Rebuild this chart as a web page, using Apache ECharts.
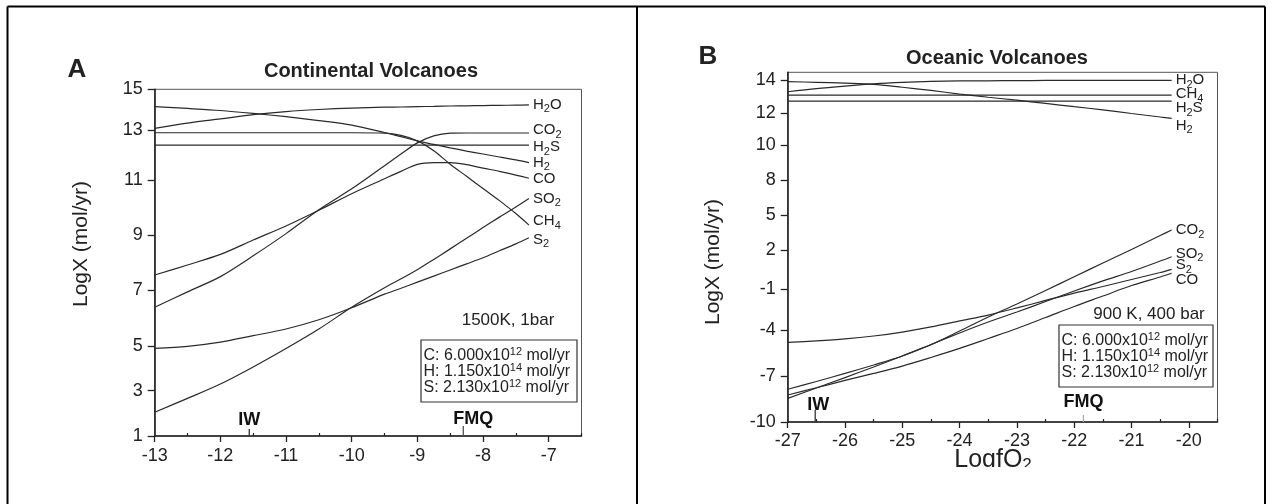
<!DOCTYPE html>
<html>
<head>
<meta charset="utf-8">
<script src="https://cdn.jsdelivr.net/npm/echarts@6/dist/echarts.min.js"></script>
<style>
  html, body { margin: 0; padding: 0; background: #fff; }
  #chart { width: 1273px; height: 504px; }
</style>
</head>
<body>
<div id="chart"></div>
<script>
const FONT = '"Liberation Sans", Arial, Helvetica, sans-serif';
const INK = '#222';

// ---------- Panel A: continental volcanoes (1500 K, 1 bar) ----------
const fo2A = [-13, -12.5, -12, -11.5, -11, -10.5, -10, -9.5, -9.25, -9, -8.75, -8.5, -8.25, -8, -7.75, -7.5, -7.3];
const h2oA = [13.10, 13.36, 13.56, 13.77, 13.92, 14.02, 14.09, 14.13, 14.14, 14.16, 14.17, 14.19, 14.20, 14.21, 14.22, 14.23, 14.24];
const co2A = [6.40, 6.95, 7.50, 8.25, 9.05, 9.92, 10.68, 11.58, 12.05, 12.50, 12.78, 12.89, 12.90, 12.90, 12.90, 12.90, 12.90];
const h2sA = [12.41, 12.41, 12.41, 12.41, 12.41, 12.41, 12.41, 12.41, 12.41, 12.41, 12.41, 12.41, 12.41, 12.41, 12.41, 12.41, 12.41];
const h2A  = [14.16, 14.07, 13.97, 13.83, 13.67, 13.48, 13.26, 12.92, 12.75, 12.58, 12.44, 12.30, 12.17, 12.05, 11.93, 11.81, 11.70];
const coA  = [7.56, 7.92, 8.30, 8.82, 9.33, 9.90, 10.50, 11.05, 11.35, 11.63, 11.70, 11.70, 11.62, 11.48, 11.35, 11.20, 11.07];
const so2A = [2.05, 2.66, 3.30, 4.07, 4.90, 5.62, 6.40, 7.10, 7.42, 7.75, 8.12, 8.50, 8.88, 9.27, 9.65, 10.02, 10.33];
const ch4A = [12.91, 12.91, 12.91, 12.91, 12.91, 12.91, 12.91, 12.89, 12.80, 12.58, 12.18, 11.64, 11.15, 10.69, 10.25, 9.78, 9.36];
const s2A  = [4.91, 5.00, 5.15, 5.38, 5.62, 5.95, 6.38, 6.87, 7.08, 7.30, 7.52, 7.74, 7.96, 8.18, 8.43, 8.68, 8.90];

// ---------- Panel B: oceanic volcanoes (900 K, 400 bar) ----------
const fo2B = [-27, -26.5, -26, -25.5, -25, -24.5, -24, -23.5, -23, -22.5, -22, -21.5, -21, -20.5, -20.3];
const h2oB = [13.31, 13.50, 13.65, 13.78, 13.87, 13.93, 13.96, 13.97, 13.98, 13.99, 13.99, 14.00, 14.00, 14.00, 14.00];
const ch4B = [13.11, 13.11, 13.11, 13.11, 13.11, 13.11, 13.11, 13.11, 13.11, 13.11, 13.11, 13.11, 13.11, 13.11, 13.11];
const h2sB = [12.75, 12.75, 12.75, 12.75, 12.75, 12.75, 12.75, 12.75, 12.75, 12.75, 12.75, 12.75, 12.75, 12.75, 12.75];
const h2B  = [13.92, 13.88, 13.83, 13.76, 13.58, 13.39, 13.17, 12.98, 12.80, 12.61, 12.41, 12.22, 12.00, 11.78, 11.69];
const co2B = [-8.44, -7.76, -7.07, -6.38, -5.66, -4.93, -4.03, -3.01, -2.06, -1.07, -0.03, 1.01, 2.04, 3.24, 3.71];
const so2B = [-7.84, -7.33, -6.80, -6.25, -5.66, -4.91, -4.16, -3.38, -2.65, -1.88, -1.11, -0.35, 0.37, 1.16, 1.49];
const s2B  = [-4.78, -4.68, -4.55, -4.36, -4.10, -3.74, -3.30, -2.87, -2.35, -1.80, -1.26, -0.77, -0.24, 0.29, 0.53];
const coB  = [-8.22, -7.74, -7.26, -6.80, -6.32, -5.76, -5.17, -4.52, -3.85, -3.05, -2.24, -1.48, -0.70, -0.05, 0.23];

// Redox buffers marked on the fO2 axis
const bufferNames = ['IW', 'FMQ'];
const bufferA = [-11.56, -8.30];
const bufferB = [-26.52, -21.84];

// Tick labels
const xTickA = [-13, -12, -11, -10, -9, -8, -7];
const xTickB = [-27, -26, -25, -24, -23, -22, -21, -20];
const yTickValA = [1, 3, 5, 7, 9, 11, 13, 15];
const yTickValB = [-10, -7, -4, -1, 2, 5, 8, 10, 12, 14];

// The LogX axes are not evenly spaced: each labelled tick sits at its own
// height (px above the fO2 axis); values in between are placed linearly.
const yTickOffA = [0, 45.3, 89.7, 145.5, 201, 256, 305.5, 346.7];
const yTickOffB = [0, 45.5, 91.5, 132.5, 172, 207, 242, 276.7, 308.5, 341.7];

function makeScale(vals, offs) {
  return function (v) {
    let i = 0;
    while (i < vals.length - 2 && v > vals[i + 1]) i++;
    const t = (v - vals[i]) / (vals[i + 1] - vals[i]);
    return offs[i] + t * (offs[i + 1] - offs[i]);
  };
}
const scaleA = makeScale(yTickValA, yTickOffA);
const scaleB = makeScale(yTickValB, yTickOffB);

function tickLabel(vals, offs) {
  return function (v) {
    const i = offs.findIndex(p => Math.abs(p - v) < 0.01);
    return i < 0 ? '' : String(vals[i]);
  };
}

// "H2O" -> rich text with subscript digits
function chem(name) {
  return name.replace(/([A-Za-z]+)|(\d+)/g, (m, letters, digits) =>
    letters ? '{n|' + letters + '}' : '{s|' + digits + '}');
}
const chemRich = {
  n: { fontSize: 15, lineHeight: 20, color: INK, fontFamily: FONT },
  s: { fontSize: 11, lineHeight: 10, verticalAlign: 'bottom', color: INK, fontFamily: FONT }
};

function curve(name, xs, ys, idx, scale, dy) {
  return {
    type: 'line',
    name: name,
    xAxisIndex: idx,
    yAxisIndex: idx,
    data: xs.map((x, i) => [x, scale(ys[i])]),
    showSymbol: false,
    symbol: 'none',
    smooth: 0.3,
    silent: true,
    z: 3,
    lineStyle: { color: '#2a2a2a', width: 1.2 },
    endLabel: {
      show: true,
      distance: 4,
      offset: [0, dy],
      formatter: () => chem(name),
      rich: chemRich
    }
  };
}

function buffers(xs, idx, styles) {
  return {
    type: 'scatter',
    xAxisIndex: idx,
    yAxisIndex: idx,
    clip: false,
    silent: true,
    z: 4,
    symbol: 'rect',
    itemStyle: { opacity: 1 },
    data: xs.map((x, i) => ({
      name: bufferNames[i],
      value: [x, 0],
      symbolSize: [1.3, styles[i].h],
      symbolOffset: [0, -styles[i].h / 2],
      itemStyle: { color: styles[i].color, opacity: 1 },
      label: {
        show: true, position: 'top', distance: 1, offset: styles[i].off,
        formatter: '{b}', fontFamily: FONT, fontWeight: 'bold', fontSize: 18, color: '#111', opacity: 1
      }
    }))
  };
}

const series = [
  curve('H2O', fo2A, h2oA, 0, scaleA, 0),
  curve('CO2', fo2A, co2A, 0, scaleA, -3),
  curve('H2S', fo2A, h2sA, 0, scaleA, 2),
  curve('H2',  fo2A, h2A,  0, scaleA, 0),
  curve('CO',  fo2A, coA,  0, scaleA, 1),
  curve('SO2', fo2A, so2A, 0, scaleA, 0),
  curve('CH4', fo2A, ch4A, 0, scaleA, -4),
  curve('S2',  fo2A, s2A,  0, scaleA, 2),
  curve('H2O', fo2B, h2oB, 1, scaleB, 0),
  curve('CH4', fo2B, ch4B, 1, scaleB, -1),
  curve('H2S', fo2B, h2sB, 1, scaleB, 7),
  curve('H2',  fo2B, h2B,  1, scaleB, 7),
  curve('CO2', fo2B, co2B, 1, scaleB, 0),
  curve('SO2', fo2B, so2B, 1, scaleB, -3),
  curve('S2',  fo2B, s2B,  1, scaleB, -4),
  curve('CO',  fo2B, coB,  1, scaleB, 7),
  buffers(bufferA, 0, [{ h: 7, color: '#333', off: [0, 1] }, { h: 10, color: '#555', off: [10, 3] }]),
  buffers(bufferB, 1, [{ h: 12, color: '#333', off: [3, 5] }, { h: 7, color: '#aaa', off: [0, -3] }])
];

function mainX(idx, min, max, ticks, margin) {
  return {
    gridIndex: idx, type: 'value', min: min, max: max,
    splitLine: { show: false },
    axisLine: { show: true, onZero: false, lineStyle: { color: INK, width: 1.6 } },
    axisTick: { show: true, customValues: ticks, length: 6, lineStyle: { color: INK, width: 1.3 } },
    axisLabel: { customValues: ticks, color: INK, fontSize: 18, fontFamily: FONT, margin: margin }
  };
}
function minorX(idx, min, max, ticks) {
  return {
    gridIndex: idx, type: 'value', min: min, max: max,
    splitLine: { show: false },
    axisLine: { show: false },
    axisLabel: { show: false },
    axisTick: { show: true, customValues: ticks.map(v => v + 0.5), length: 3, lineStyle: { color: INK, width: 1.2 } }
  };
}
function mainY(idx, max, vals, offs) {
  return {
    gridIndex: idx, type: 'value', min: 0, max: max,
    splitLine: { show: false },
    axisLine: { show: true, onZero: false, lineStyle: { color: INK, width: 1.6 } },
    axisTick: { show: true, customValues: offs, length: 7, lineStyle: { color: INK, width: 1.3 } },
    axisLabel: { customValues: offs, formatter: tickLabel(vals, offs), color: INK, fontSize: 18, fontFamily: FONT, margin: 12 }
  };
}

function txt(x, y, text, size, extra) {
  return {
    type: 'text', x: x, y: y, silent: true,
    style: Object.assign({ text: text, fontSize: size, fontFamily: FONT, fill: INK, align: 'center', verticalAlign: 'middle' }, extra || {})
  };
}
function line(x1, y1, x2, y2) {
  return { type: 'line', silent: true, shape: { x1, y1, x2, y2 }, style: { stroke: '#000', lineWidth: 2 } };
}
const supRich = {
  n: { fontSize: 16, lineHeight: 18, fontFamily: FONT, fill: INK },
  p: { fontSize: 11, lineHeight: 6, verticalAlign: 'top', fontFamily: FONT, fill: INK }
};
function fluxBox(x, y, w, h) {
  const rows = ['{n|C: 6.000x10}{p|12}{n| mol/yr}', '{n|H: 1.150x10}{p|14}{n| mol/yr}', '{n|S: 2.130x10}{p|12}{n| mol/yr}'];
  const els = [{ type: 'rect', silent: true, shape: { x: x, y: y, width: w, height: h }, style: { fill: '#fff', stroke: '#333', lineWidth: 1.2 }, z: 5 }];
  rows.forEach((r, i) => {
    els.push({ type: 'text', silent: true, x: x + 2.5, y: y + 15.5 + i * 16.2, z: 6,
      style: { text: r, rich: supRich, align: 'left', verticalAlign: 'middle', fontSize: 16, fontFamily: FONT, fill: INK } });
  });
  return els;
}

const graphic = [
  // panel frames
  line(7.5, 6.5, 1265, 6.5),
  line(7.5, 6.5, 7.5, 504),
  line(637, 6.5, 637, 504),
  line(1265, 6.5, 1265, 504),
  // panel letters and titles
  txt(77, 70, 'A', 26, { fontWeight: 'bold' }),
  txt(371, 71, 'Continental Volcanoes', 20, { fontWeight: 'bold' }),
  txt(708, 57, 'B', 26, { fontWeight: 'bold' }),
  txt(997, 58, 'Oceanic Volcanoes', 20, { fontWeight: 'bold' }),
  // axis names
  Object.assign(txt(81, 244, 'LogX (mol/yr)', 21), { rotation: Math.PI / 2 }),
  Object.assign(txt(713, 262, 'LogX (mol/yr)', 21), { rotation: Math.PI / 2 }),
  { type: 'text', silent: true, x: 993, y: 460, z: 1,
    style: { text: '{n|LogfO}{s|2}', align: 'center', verticalAlign: 'middle', fontSize: 25, fontFamily: FONT, fill: INK,
      rich: { n: { fontSize: 25, lineHeight: 28, fontFamily: FONT, fill: INK }, s: { fontSize: 17, lineHeight: 14, verticalAlign: 'bottom', fontFamily: FONT, fill: INK } } } },
  // conditions
  txt(508, 320, '1500K, 1bar', 17),
  txt(1149, 314, '900 K, 400 bar', 17),
  ...fluxBox(421, 340, 156, 62),
  ...fluxBox(1059, 325, 154, 62),
  // lower margin of panel B
  { type: 'rect', silent: true, z: 20, shape: { x: 639, y: 467, width: 624, height: 40 }, style: { fill: '#fff' } }
];

const chart = echarts.init(document.getElementById('chart'), null, { renderer: 'canvas' });
chart.setOption({
  animation: false,
  backgroundColor: '#fff',
  textStyle: { fontFamily: FONT },
  grid: [
    { left: 154.7, top: 89.3, width: 426.8, height: 346.7, show: true, borderColor: '#555', borderWidth: 1, containLabel: false, outerBoundsMode: 'none' },
    { left: 787.7, top: 72.3, width: 429.8, height: 349.7, show: true, borderColor: '#555', borderWidth: 1, containLabel: false, outerBoundsMode: 'none' }
  ],
  xAxis: [
    mainX(0, -13, -6.5, xTickA, 11),
    mainX(1, -27, -19.5, xTickB, 10),
    minorX(0, -13, -6.5, xTickA),
    minorX(1, -27, -19.5, xTickB)
  ],
  yAxis: [
    mainY(0, 346.7, yTickValA, yTickOffA),
    mainY(1, 349.7, yTickValB, yTickOffB)
  ],
  series: series,
  graphic: graphic
});
</script>
</body>
</html>
